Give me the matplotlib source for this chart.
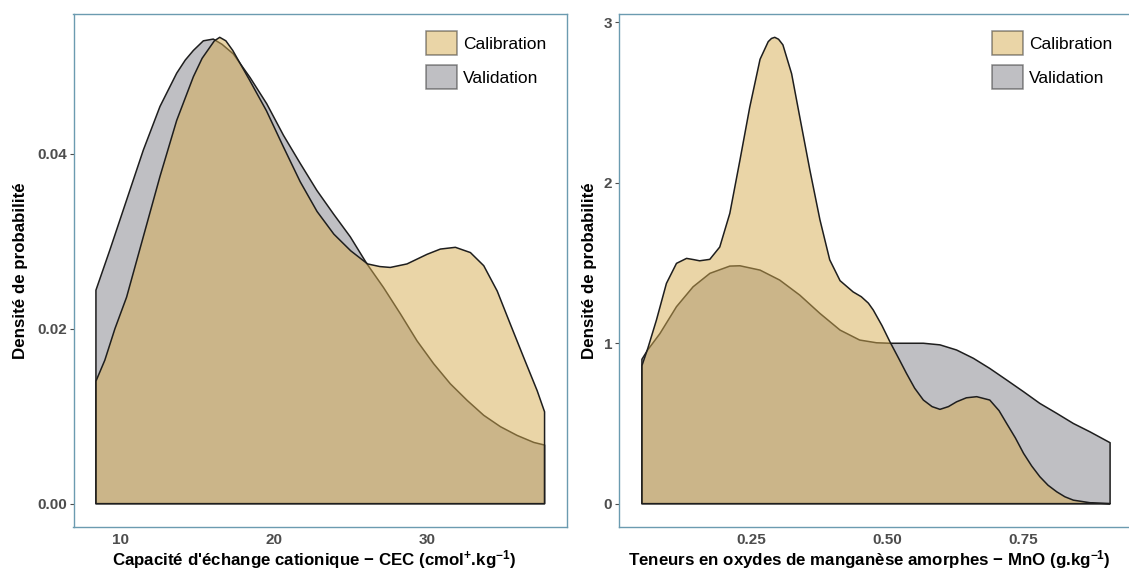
import numpy as np
import matplotlib
matplotlib.use("Agg")
import matplotlib.pyplot as plt
from matplotlib.patches import Patch
from matplotlib.ticker import FormatStrFormatter

plt.rcParams['font.family'] = ['Liberation Sans', 'DejaVu Sans']
plt.rcParams['mathtext.fontset'] = 'custom'
plt.rcParams['mathtext.rm'] = 'Liberation Sans:bold'
plt.rcParams['mathtext.bf'] = 'Liberation Sans:bold'
plt.rcParams['mathtext.it'] = 'Liberation Sans:bold:italic'
plt.rcParams['mathtext.default'] = 'rm'

series_names = ["Calibration", "Validation"]

# ---- Left panel: CEC density ----
cec_cal_x = [8.37, 8.95, 9.61, 10.37, 11.46, 12.55, 13.64, 14.73, 15.3, 15.82, 16.1, 16.45,
             16.85, 17.3, 18.4, 19.5, 20.6, 21.7, 22.8, 23.9, 25.0, 26.1, 26.9, 27.58, 28.67,
             29.98, 30.85, 31.83, 32.81, 33.68, 34.56, 35.42, 36.29, 37.17, 37.65]
cec_cal_y = [0.0140, 0.0164, 0.0200, 0.0236, 0.0305, 0.0374, 0.0438, 0.0488, 0.0509, 0.0522, 0.0529, 0.0533,
             0.0529, 0.0518, 0.0484, 0.0449, 0.0408, 0.0368, 0.0334, 0.0308, 0.0289, 0.0274, 0.0271, 0.0270, 0.0274,
             0.0285, 0.0291, 0.0293, 0.0287, 0.0272, 0.0243, 0.0205, 0.0167, 0.0129, 0.0105]

cec_val_x = [8.37, 9.28, 10.37, 11.46, 12.55, 13.64, 14.2, 14.73, 15.38, 16.03, 16.6, 17.34,
             18.43, 19.52, 20.61, 21.70, 22.79, 23.88, 24.97, 26.06, 27.14, 28.24,
             29.33, 30.41, 31.5, 32.6, 33.68, 34.77, 35.86, 36.95, 37.65]
cec_val_y = [0.0244, 0.0290, 0.0347, 0.0404, 0.0454, 0.0492, 0.0507, 0.0518, 0.0529, 0.0531, 0.0525, 0.0514,
             0.0487, 0.0457, 0.0421, 0.0389, 0.0358, 0.0331, 0.0305, 0.0274, 0.0247, 0.0217,
             0.0186, 0.0160, 0.0137, 0.0118, 0.0101, 0.0088, 0.0078, 0.0070, 0.0067]

# ---- Right panel: MnO density ----
mno_cal_x = [0.049, 0.060, 0.0757, 0.094, 0.1125, 0.131, 0.143, 0.155, 0.1737, 0.192,
             0.2105, 0.229, 0.247, 0.266, 0.281, 0.287, 0.293, 0.300, 0.308, 0.324, 0.339, 0.3575,
             0.376, 0.394, 0.413, 0.437, 0.452, 0.465, 0.474, 0.490, 0.5046, 0.520,
             0.535, 0.550, 0.566, 0.582, 0.5965, 0.612, 0.627, 0.645, 0.664, 0.688, 0.705, 0.719,
             0.735, 0.750, 0.765, 0.780, 0.795, 0.811, 0.826, 0.8415, 0.872, 0.909]
mno_cal_y = [0.86, 0.97, 1.145, 1.373, 1.498, 1.529, 1.522, 1.514, 1.523, 1.60,
             1.81, 2.14, 2.47, 2.77, 2.88, 2.90, 2.907, 2.895, 2.86, 2.68, 2.41, 2.08,
             1.77, 1.52, 1.39, 1.32, 1.29, 1.25, 1.207, 1.11, 1.009, 0.91,
             0.812, 0.72, 0.646, 0.605, 0.588, 0.605, 0.635, 0.66, 0.667, 0.646, 0.58, 0.50,
             0.41, 0.314, 0.235, 0.168, 0.115, 0.074, 0.043, 0.022, 0.006, 0.0]

mno_val_x = [0.049, 0.060, 0.082, 0.1125, 0.143, 0.174, 0.2105, 0.229, 0.266, 0.302,
             0.339, 0.376, 0.413, 0.449, 0.480, 0.5046, 0.535, 0.566, 0.5965, 0.627,
             0.658, 0.688, 0.719, 0.750, 0.780, 0.811, 0.8415, 0.872, 0.909]
mno_val_y = [0.90, 0.96, 1.06, 1.228, 1.352, 1.436, 1.481, 1.483, 1.456, 1.394,
             1.30, 1.186, 1.082, 1.02, 1.003, 1.0, 1.0, 1.0, 0.99, 0.958,
             0.906, 0.843, 0.771, 0.698, 0.625, 0.563, 0.50, 0.448, 0.38]

cec_xticks = [10, 20, 30]
cec_yticks = [0.00, 0.02, 0.04]
mno_xticks = [0.25, 0.50, 0.75]
mno_yticks = [0, 1, 2, 3]

xlabel_left = "Capacité d'échange cationique − CEC (cmol$^{+}$.kg$^{-1}$)"
xlabel_right = "Teneurs en oxydes de manganèse amorphes − MnO (g.kg$^{-1}$)"
ylabel = "Densité de probabilité"

cal_color = "#D7AD51"
val_color = "#818189"
edge_color = "#1e1e1e"
spine_color = "#6b9bb0"
tick_color = "#4d4d4d"

fig = plt.figure(figsize=(11.29, 5.69), dpi=100)
ax1 = fig.add_axes([73.5 / 1129, 1 - 527 / 569, 493.5 / 1129, 513 / 569])
ax2 = fig.add_axes([618.5 / 1129, 1 - 527 / 569, 515 / 1129, 513 / 569])


def draw_density(ax, x, y, color):
    x = np.asarray(x, float)
    y = np.asarray(y, float)
    px = np.concatenate([[x[0]], x, [x[-1]]])
    py = np.concatenate([[0.0], y, [0.0]])
    ax.fill(px, py, facecolor=color, alpha=0.5, edgecolor='none')
    ax.fill(px, py, facecolor='none', edgecolor=edge_color, linewidth=1.1,
            joinstyle='round')


def style(ax, xs_all, ys_all, xticks, yticks, xfmt, yfmt, xlabel, ylab_x):
    xmin, xmax = min(xs_all), max(xs_all)
    ymax = max(ys_all)
    dx = 0.05 * (xmax - xmin)
    dy = 0.05 * ymax
    ax.set_xlim(xmin - dx, xmax + dx)
    ax.set_ylim(-dy, ymax + dy)
    ax.set_xticks(xticks)
    ax.set_yticks(yticks)
    ax.xaxis.set_major_formatter(FormatStrFormatter(xfmt))
    ax.yaxis.set_major_formatter(FormatStrFormatter(yfmt))
    ax.tick_params(axis='x', length=0, pad=4.5, labelsize=11, labelcolor=tick_color)
    ax.tick_params(axis='y', length=3, width=0.8, color=tick_color, pad=1.5,
                   labelsize=11, labelcolor=tick_color)
    for lab in ax.get_xticklabels() + ax.get_yticklabels():
        lab.set_fontweight('bold')
    for sp in ax.spines.values():
        sp.set_color(spine_color)
        sp.set_linewidth(1.0)
    ax.set_xlabel(xlabel, fontsize=12.2, fontweight='bold', va='center')
    ax.xaxis.set_label_coords(0.487, -0.063)
    ax.set_ylabel(ylabel, fontsize=12.2, fontweight='bold', va='center')
    ax.yaxis.set_label_coords(ylab_x, 0.5)
    handles = [Patch(facecolor=cal_color, alpha=0.5, edgecolor=edge_color, linewidth=1.1),
               Patch(facecolor=val_color, alpha=0.5, edgecolor=edge_color, linewidth=1.1)]
    return handles


draw_density(ax1, cec_val_x, cec_val_y, val_color)
draw_density(ax1, cec_cal_x, cec_cal_y, cal_color)
h1 = style(ax1, cec_cal_x + cec_val_x, cec_cal_y + cec_val_y, cec_xticks, cec_yticks,
           '%d', '%.2f', xlabel_left, -0.108)

draw_density(ax2, mno_val_x, mno_val_y, val_color)
draw_density(ax2, mno_cal_x, mno_cal_y, cal_color)
h2 = style(ax2, mno_cal_x + mno_val_x, mno_cal_y + mno_val_y, mno_xticks, mno_yticks,
           '%.2f', '%d', xlabel_right, -0.057)

for ax, h, lx in [(ax1, h1, 0.714), (ax2, h2, 0.725)]:
    leg = ax.legend(h, series_names, loc='upper left', bbox_to_anchor=(lx, 0.967),
                    frameon=False, fontsize=12.5, handlelength=1.78, handleheight=1.78,
                    labelspacing=0.55, handletextpad=0.35, borderpad=0, borderaxespad=0)

fig.savefig("out.png", dpi=100)
